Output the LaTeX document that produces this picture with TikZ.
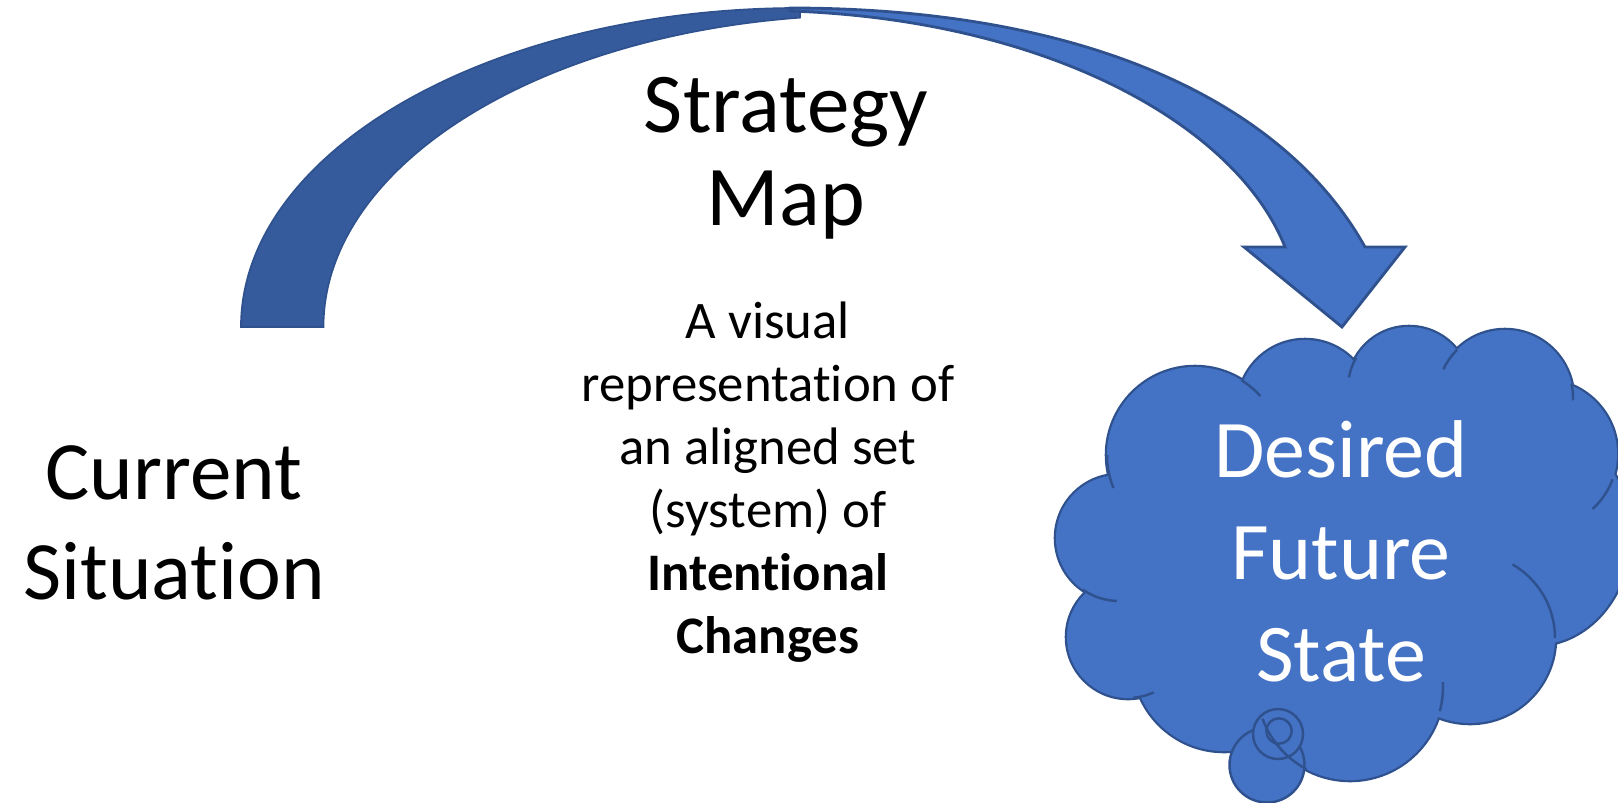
\documentclass[tikz,border=0pt]{standalone}
\usepackage{fontspec}
\setmainfont{Carlito}[Ligatures=NoCommon]
\definecolor{arrowblue}{HTML}{4472C4}
\definecolor{arrowdark}{HTML}{365B9D}
\definecolor{edgeblue}{HTML}{2F528F}

\newcommand{\cloudpuffs}{%
 (1119,538) circle[radius=63]
 (1128,637) circle[radius=61]
 (1224,660) circle[radius=91]
 (1350,687) circle[radius=93]
 (1470,638) circle[radius=85]
 (1535,535) ellipse[x radius=95,y radius=110]
 (1543,454) circle[radius=74]
 (1505,398) circle[radius=68]
 (1409,388) circle[radius=61]
 (1305,407) circle[radius=67]
 (1195,455) circle[radius=88]}

\begin{document}
\begin{tikzpicture}[x=0.01cm,y=-0.01cm,
 every node/.style={align=center,inner sep=0pt},
 sidetext/.style={font=\fontsize{23.6}{28.5}\selectfont},
 titletext/.style={font=\fontsize{24.2}{26.5}\selectfont},
 smalltext/.style={font=\fontsize{15}{17.9}\selectfont},
 cloudtext/.style={font=\fontsize{23.3}{29}\selectfont,text=white},
 backpart/.style={fill=arrowdark,draw=edgeblue,line width=0.5pt},
 frontpart/.style={fill=arrowblue,draw=edgeblue,line width=0.8pt},
 puffedge/.style={fill=arrowblue,draw=edgeblue,line width=1.3pt},
 puff/.style={fill=arrowblue},
 crease/.style={draw=edgeblue,line width=0.7pt},
 bubble/.style={fill=arrowblue,draw=edgeblue,line width=0.7pt}]
\useasboundingbox (0,0) rectangle (1618,802);

%Arrow
\path[backpart] (241,327) arc[start angle=180,end angle=270,x radius=559,y radius=319]
 -- (800,17.6) arc[start angle=262.6,end angle=180,x radius=547,y radius=312] -- cycle;
\path[frontpart] (790,8) .. controls (1095,8) and (1287,107) .. (1365,247)
 -- (1405,247) -- (1342,327) -- (1244,247) -- (1285,247)
 .. controls (1237,126) and (1050,20) .. (790,11) -- cycle;

%Cloud
\path[puffedge] \cloudpuffs;
\path[puff] \cloudpuffs (1330,540) ellipse[x radius=210,y radius=160];
\draw[crease] (1195,455) ++(302:88) arc[start angle=302,end angle=318,radius=88];
\draw[crease] (1409,388) ++(210:61) arc[start angle=210,end angle=190,radius=61];
\draw[crease] (1505,398) ++(225:68) arc[start angle=225,end angle=205,radius=68];
\draw[crease] (1505,398) ++(348:68) arc[start angle=348,end angle=362,radius=68];
\draw[crease] (1543,454) ++(20:74) arc[start angle=20,end angle=48,radius=74];
\draw[crease] (1470,638) ++(300:85) arc[start angle=300,end angle=360,radius=85];
\draw[crease] (1350,687) ++(357:93) arc[start angle=357,end angle=375,radius=93];
\draw[crease] (1128,637) ++(85:61) arc[start angle=85,end angle=65,radius=61];
\draw[crease] (1119,538) ++(125:63) arc[start angle=125,end angle=92,radius=63];
\draw[crease] (1195,455) ++(180:88) arc[start angle=180,end angle=158,radius=88];

%Bubbles
\path[bubble] (1267,765) circle[radius=37.5];
\path[bubble] (1278,734) circle[radius=25];
\path[bubble] (1279,731) circle[radius=12.7];
\draw[crease] (1350,687) ++(160:93) arc[start angle=160,end angle=118,radius=93];

%Texts
\node[sidetext] (current) at (174,523) {Current\\Situation};
\node[titletext] (title) at (786,158) {Strategy\\Map};
\node[smalltext] (desc) at (768,482) {A visual\\representation of\\an aligned set\\(system) of\\\textbf{Intentional}\\\textbf{Changes}};
\node[cloudtext] (desired) at (1341,551) {Desired\\Future\\State};
\end{tikzpicture}
\end{document}
